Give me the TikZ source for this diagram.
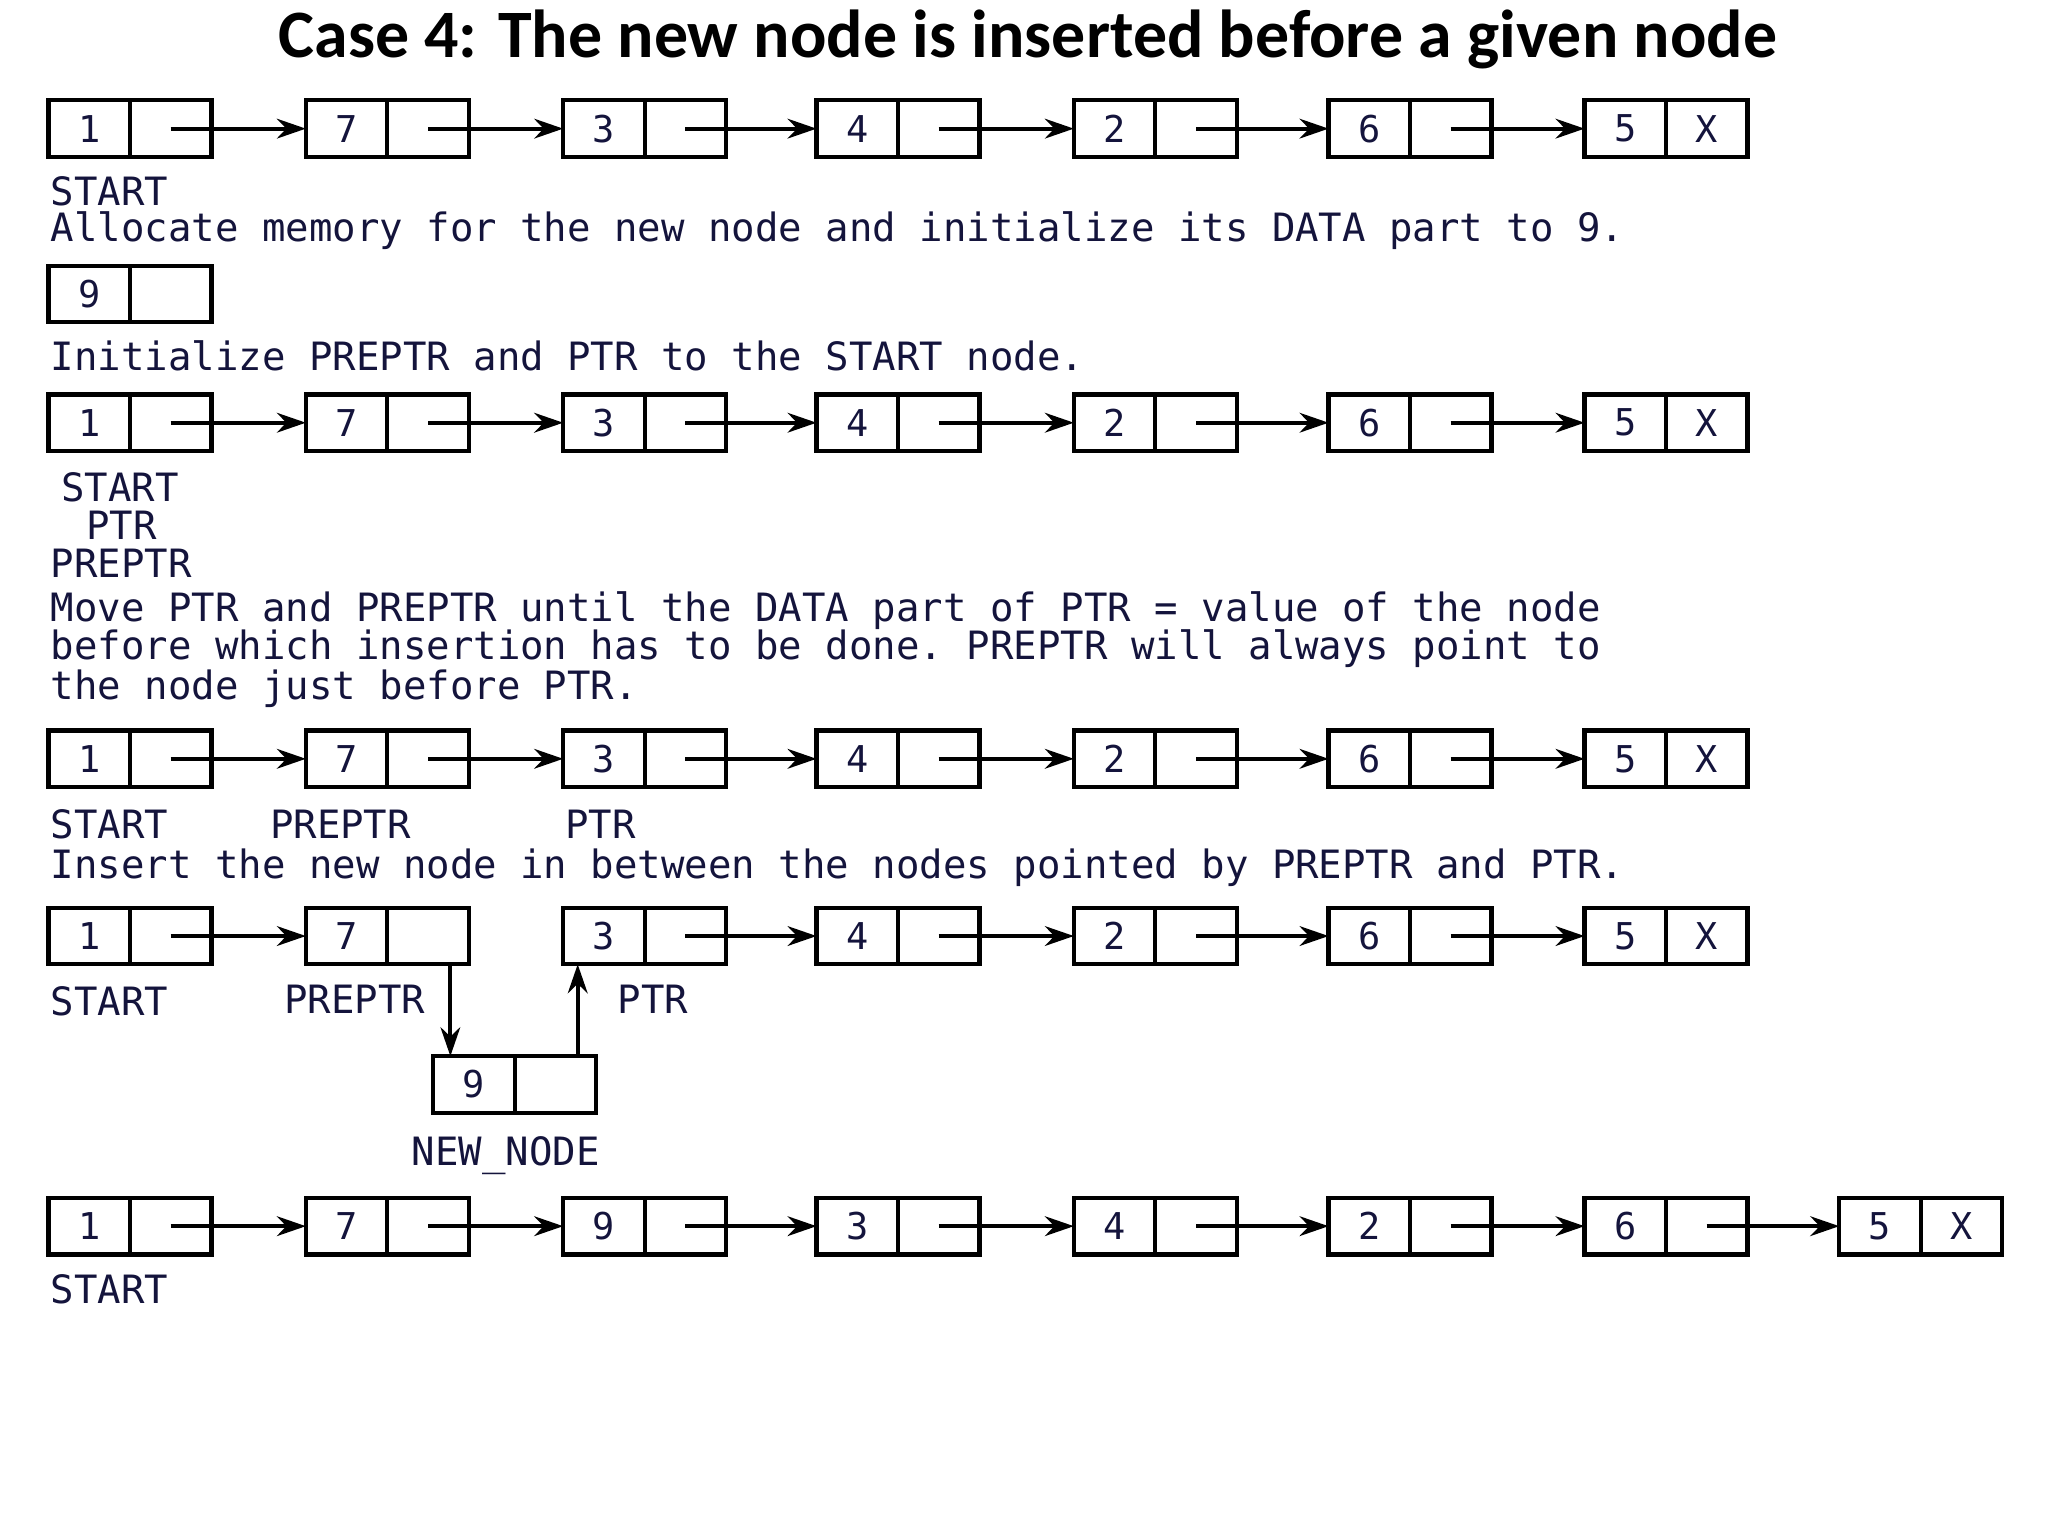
\documentclass[tikz,border=0pt]{standalone}
\usepackage{fontspec}
\setmonofont{DejaVu Sans Mono}
\newfontfamily\titlefont{Carlito}
\usetikzlibrary{arrows.meta}
\definecolor{txt}{RGB}{20,20,60}
\tikzset{
 cellbox/.style={draw,line width=0.9pt,minimum height=0.43cm,inner sep=0pt,outer sep=0pt,font=\ttfamily\fontsize{8pt}{9pt}\selectfont,text=txt},
 dcell/.style={cellbox,minimum width=0.62cm},
 pcell/.style={cellbox,minimum width=0.62cm},
 lnk/.style={line width=0.9pt,-{Stealth[length=0.22cm,width=0.15cm]}},
 lbl/.style={anchor=west,inner sep=0pt,font=\ttfamily\fontsize{8.45pt}{9pt}\selectfont,text=txt}
}
\newcommand{\llnode}[5]{%
 \node[dcell] (#1) at (#2+32,#3) {#4};
 \node[pcell,anchor=west] (#1p) at (#1.east) {#5};}
\begin{document}
\begin{tikzpicture}[x=0.01cm,y=-0.01cm]
\useasboundingbox[fill=white] (0,0) rectangle (1560,1170);
\node[font=\titlefont\bfseries\fontsize{14.7pt}{16pt}\selectfont] (title) at (783,30) {Case 4: The new node is inserted before a given node};
% rows 1-3
\foreach \r/\y in {a/98,b/322,c/578}{
 \foreach \v/\l [count=\i] in {1/36,7/232,3/428,4/621,2/817,6/1011}{
   \llnode{\r\i}{\l}{\y}{\v}{}
 }
 \llnode{\r7}{1206}{\y}{5}{X}
 \foreach \i [evaluate=\i as \j using int(\i+1)] in {1,...,6}{
   \draw[lnk] (\r\i p.center) -- (\r\j.west);
 }
}
\node[lbl] (s1) at (38,146) {START};
\node[lbl] (t1) at (38,176) {Allocate memory for the new node and initialize its DATA part to 9.};
\llnode{nn}{36}{224}{9}{}
\node[lbl] (t2) at (38,271) {Initialize PREPTR and PTR to the START node.};
\node[lbl] (s2) at (46,371) {START};
\node[lbl] (p2) at (65,400) {PTR};
\node[lbl] (q2) at (38,429) {PREPTR};
\node[lbl] (t3a) at (38,465) {Move PTR and PREPTR until the DATA part of PTR = value of the node};
\node[lbl] (t3b) at (38,494) {before which insertion has to be done. PREPTR will always point to};
\node[lbl] (t3c) at (38,525) {the node just before PTR.};
\node[lbl] (s3) at (38,628) {START};
\node[lbl] (q3) at (205,628) {PREPTR};
\node[lbl] (p3) at (430,628) {PTR};
\node[lbl] (t4) at (38,661) {Insert the new node in between the nodes pointed by PREPTR and PTR.};
% row 4
\foreach \v/\l [count=\i] in {1/36,7/232,3/428,4/621,2/817,6/1011}{
  \llnode{d\i}{\l}{713}{\v}{}
}
\llnode{d7}{1206}{713}{5}{X}
\draw[lnk] (d1p.center) -- (d2.west);
\foreach \i [evaluate=\i as \j using int(\i+1)] in {3,...,6}{
  \draw[lnk] (d\i p.center) -- (d\j.west);
}
\node[lbl] (s4) at (38,763) {START};
\node[lbl] (q4) at (216,761) {PREPTR};
\node[lbl] (p4) at (470,761) {PTR};
\llnode{nw}{329}{826}{9}{}
\path (d2p.south east) ++(-14,0) coordinate (c1);
\draw[lnk] (c1) -- (c1 |- nw.north);
\path (nwp.north east) ++(-14,0) coordinate (c2);
\draw[lnk] (c2) -- (c2 |- d3.south);
\node[lbl] (nl) at (313,880) {NEW\_NODE};
% row 5
\foreach \v/\l [count=\i] in {1/36,7/232,9/428,3/621,4/817,2/1011,6/1206}{
  \llnode{e\i}{\l}{934}{\v}{}
}
\llnode{e8}{1400}{934}{5}{X}
\foreach \i [evaluate=\i as \j using int(\i+1)] in {1,...,7}{
  \draw[lnk] (e\i p.center) -- (e\j.west);
}
\node[lbl] (s5) at (38,982) {START};
\end{tikzpicture}
\end{document}
